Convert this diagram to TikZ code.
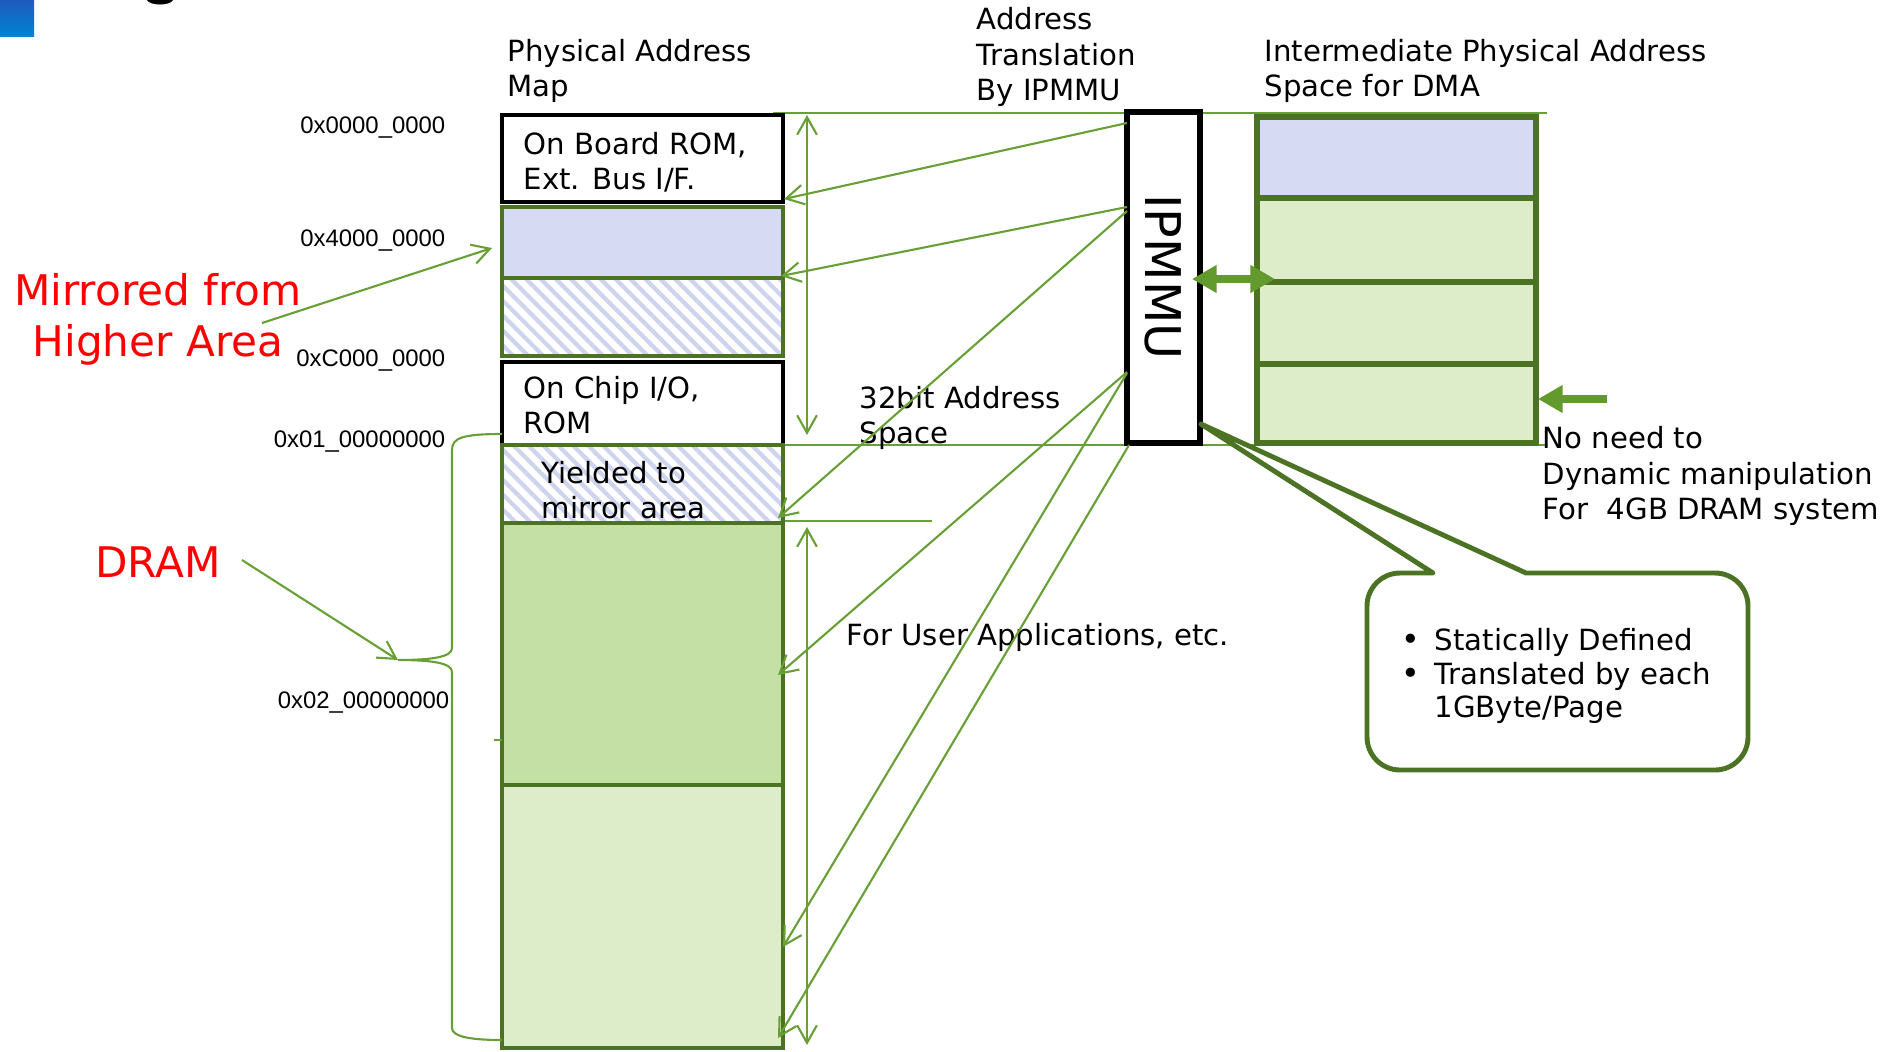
\documentclass[tikz,border=0pt]{standalone}
\usepackage{fontspec}
\setmainfont{DejaVu Sans}
\newfontfamily\addrfont{Liberation Sans}
\usetikzlibrary{arrows.meta,patterns.meta}

\definecolor{linegreen}{RGB}{104,160,54}
\definecolor{edgegreen}{RGB}{76,115,36}
\definecolor{arrowgreen}{RGB}{98,154,46}
\definecolor{mapblue}{RGB}{214,218,242}
\definecolor{hatchblue}{RGB}{206,211,238}
\definecolor{dramgreen}{RGB}{196,224,164}
\definecolor{palegreen}{RGB}{221,237,202}

\begin{document}
\begin{tikzpicture}[x=0.01cm,y=-0.01cm,
    txt/.style={font=\fontsize{8.3}{10}\selectfont,inner sep=0pt,align=left,anchor=west},
    addr/.style={font=\addrfont\fontsize{6.8}{8}\selectfont,inner sep=0pt,anchor=east},
    redlabel/.style={font=\fontsize{12}{14.5}\selectfont,text=red,inner sep=0pt,align=center},
    thin/.style={draw=linegreen,line width=0.6pt},
    tip/.style={thin,-{Straight Barb[length=5pt,width=5.6pt]}},
    span/.style={thin,{Straight Barb[length=5pt,width=5.6pt]}-{Straight Barb[length=5pt,width=5.6pt]}},
    greenbox/.style={draw=edgegreen,line width=1.2pt},
    blackbox/.style={draw=black,line width=1.2pt,fill=white},
    hatched/.style={greenbox,pattern={Lines[angle=-45,distance=3pt,line width=1.2pt]},pattern color=hatchblue},
    dmabox/.style={draw=edgegreen,line width=1.6pt},
    fat/.style={draw=arrowgreen,line width=2pt},
    callout/.style={draw=edgegreen,line width=1.4pt,fill=white,line join=round}]
  \useasboundingbox (0,0) rectangle (1889,1051);

  \shade[top color={rgb,255:red,30;green,90;blue,190},bottom color={rgb,255:red,0;green,132;blue,212}]
    (0,0) rectangle (34,36);
  \fill (147,0) .. controls (150,6) and (170,6) .. (173,0) -- cycle;

  \path
    (773,113) coordinate (top0)
    (1547,113) coordinate (top1)
    (783,445) coordinate (mid0)
    (1547,445) coordinate (mid1)
    (783,521) coordinate (low0)
    (932,521) coordinate (low1);
  \begin{scope}[thin]
    \draw (top0) -- (top1);
    \draw (mid0) -- (mid1);
    \draw (low0) -- (low1);
  \end{scope}

  \draw[blackbox] (502,115) rectangle (783,202);
  \draw[greenbox,fill=mapblue] (502,207) rectangle (783,278);
  \draw[hatched] (502,278) rectangle (783,356);
  \draw[blackbox] (502,362) rectangle (783,445);
  \draw[hatched] (502,445) rectangle (783,523);
  \draw[greenbox,fill=dramgreen] (502,523) rectangle (783,785);
  \draw[greenbox,fill=palegreen] (502,785) rectangle (783,1048);

  \draw[dmabox,fill=mapblue] (1257,117) rectangle (1536,198);
  \draw[dmabox,fill=palegreen] (1257,198) rectangle (1536,282);
  \draw[dmabox,fill=palegreen] (1257,282) rectangle (1536,364);
  \draw[dmabox,fill=palegreen] (1257,364) rectangle (1536,443);

  \node[draw,line width=1.7pt,fill=white,minimum width=0.73cm,minimum height=3.31cm,inner sep=0pt]
    (ipmmu) at (1163.5,277.5) {};
  \node[font=\fontsize{14}{16}\selectfont,rotate=-90,inner sep=0pt] (ipmmutext) at (1163,277) {IPMMU};

  \node[txt] (pamap) at (507,71) {Physical Address\\Map};
  \node[txt] (trans) at (976,57) {Address\\Translation\\By IPMMU};
  \node[txt] (ipas) at (1264,71) {Intermediate Physical Address\\Space for DMA};
  \node[txt] (rom) at (523,162) {On Board ROM,\\Ext. Bus I/F.};
  \node[txt] (chipio) at (523,405) {On Chip I/O,\\ROM};
  \node[txt] (yield) at (541,490) {Yielded to\\mirror area};
  \node[txt] (space) at (859,418) {32bit Address\\Space};
  \node[txt] (user) at (846,637) {For User Applications, etc.};
  \node[txt] (noneed) at (1542,476) {No need to\\Dynamic manipulation\\For\ \ 4GB DRAM system};

  \node[addr] (a0) at (446,128) {0x0000\_0000};
  \node[addr] (a4) at (446,241) {0x4000\_0000};
  \node[addr] (ac) at (446,361) {0xC000\_0000};
  \node[addr] (a1) at (446,442) {0x01\_00000000};
  \node[addr] (a2) at (450,703) {0x02\_00000000};

  \node[redlabel] (mirror) at (158,319) {Mirrored from\\Higher Area};
  \node[redlabel] (dram) at (158,562) {DRAM};

  \path
    (1127,123) coordinate (ip1) (784,199) coordinate (pa1)
    (1127,207) coordinate (ip2) (781,276) coordinate (pa2)
    (1127,211) coordinate (ip3) (778,518) coordinate (pa3)
    (1127,372) coordinate (ip4) (778,675) coordinate (pa4)
    (1127,373) coordinate (ip5) (783,947) coordinate (pa5)
    (1129,445) coordinate (ip6) (778,1038) coordinate (pa6)
    (807,115) coordinate (s1) (807,435) coordinate (s2)
    (807,527) coordinate (s3) (807,1045) coordinate (s4)
    (262,323) coordinate (m0) (492,248) coordinate (m1)
    (242,560) coordinate (d0) (398,660) coordinate (d1)
    (494,740) coordinate (k0) (502,740) coordinate (k1);
  \begin{scope}[tip]
    \draw (ip1) to (pa1);
    \draw (ip2) to (pa2);
    \draw (ip3) to (pa3);
    \draw (ip4) to (pa4);
    \draw (ip5) to (pa5);
    \draw (ip6) to (pa6);
    \draw (m0) to (m1);
    \draw (d0) to (d1);
  \end{scope}
  \draw[span] (s1) -- (s2);
  \draw[span] (s3) -- (s4);
  \draw[thin] (k0) -- (k1);
  \draw[thin] (502,434) .. controls (462,434) and (452,438) .. (452,450) -- (452,648)
    .. controls (452,657) and (432,660) .. (d1)
    .. controls (432,660) and (452,663) .. (452,672) -- (452,1028)
    .. controls (452,1036) and (468,1040) .. (502,1040);

  \path
    (1192,279) coordinate (io0) (1275,279) coordinate (io1)
    (1607,399) coordinate (st0) (1538,399) coordinate (st1);
  \draw[fat,{Triangle[length=7pt,width=7.5pt]}-{Triangle[length=7pt,width=7.5pt]}] (io0) -- (io1);
  \draw[fat,-{Triangle[length=7pt,width=7.5pt]}] (st0) -- (st1);

  \coordinate (apex) at (1201,424);
  \draw[callout] (1526,573) -- (1715,573) arc[start angle=-90,end angle=0,radius=33]
    -- (1748,737) arc[start angle=0,end angle=90,radius=33]
    -- (1400,770) arc[start angle=90,end angle=180,radius=33]
    -- (1367,606) arc[start angle=180,end angle=270,radius=33]
    -- (1433,573) -- (apex) -- cycle;
  \node[txt,font=\fontsize{8.3}{9.5}\selectfont] (static) at (1401,676)
    {\makebox[0.33cm][l]{\small\textbullet}Statically Defined\\
     \makebox[0.33cm][l]{\small\textbullet}Translated by each\\
     \hspace*{0.33cm}1GByte/Page};
\end{tikzpicture}
\end{document}
